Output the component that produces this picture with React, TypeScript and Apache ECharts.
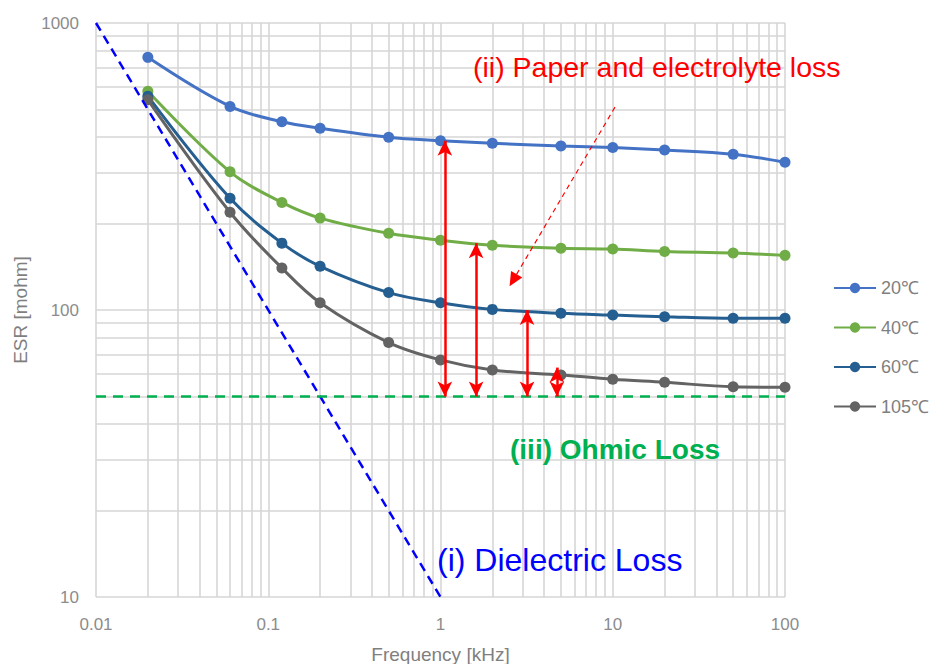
import React, { useEffect, useRef } from "react";
import * as echarts from "echarts";

const frequencies = [0.02, 0.06, 0.12, 0.2, 0.5, 1, 2, 5, 10, 20, 50, 100];
const seriesNames = ["20℃", "40℃", "60℃", "105℃"];
const esr20 = [759, 512, 453, 430, 400, 389, 381, 373, 368, 361, 349, 327];
const esr40 = [578, 303, 237, 209, 185, 175, 168, 164, 163, 160, 158, 155];
const esr60 = [556, 245, 171, 142, 115, 106, 100.5, 97.4, 96, 94.8, 93.6, 93.6];
const esr105 = [540, 219, 140, 106, 77, 67, 61.8, 59.4, 57.4, 56, 54, 53.8];
const seriesColors = ["#4472C4", "#70AD47", "#255E91", "#636363"];

const decades = [0.01, 0.1, 1, 10];
const yDecades = [10, 100];
const multipliers = [1, 2, 3, 4, 5, 6, 7, 8, 9];

// annotation geometry (data coordinates)
const dielectricLine = [[0.01, 1000], [1, 10]];
const ohmicLevel = 50;
const lossArrows = [
  { f: 1.06, top: 389 },
  { f: 1.61, top: 171 },
  { f: 3.18, top: 100 },
  { f: 4.74, top: 63 },
];
const pointerArrow = { from: [10.3, 509], to: [2.64, 127] };

const FONT = "'Liberation Sans', Arial, sans-serif";

export default function App() {
  const ref = useRef<HTMLDivElement>(null);
  useEffect(() => {
    if (!ref.current) return;
    const chart = echarts.init(ref.current, undefined, { renderer: "svg" });
    const xGrid: number[] = [];
    decades.forEach((d) => multipliers.forEach((m) => xGrid.push(+(d * m).toPrecision(3))));
    xGrid.push(100);
    const yGrid: number[] = [];
    yDecades.forEach((d) => multipliers.forEach((m) => yGrid.push(d * m)));
    yGrid.push(1000);

    const allSeries = [esr20, esr40, esr60, esr105];

    const option: any = {
      animation: false,
      backgroundColor: "#ffffff",
      grid: { left: 96, right: 145, top: 23, bottom: 67, containLabel: false, outerBoundsMode: "none" },
      legend: {
        data: seriesNames,
        orient: "vertical",
        left: 828,
        top: 274,
        itemWidth: 42,
        itemHeight: 13,
        itemGap: 21.5,
        textStyle: { color: "#7f7f7f", fontSize: 18, fontFamily: FONT },
      },
      xAxis: {
        type: "log",
        logBase: 10,
        min: 0.01,
        max: 100,
        name: "Frequency [kHz]",
        nameLocation: "middle",
        nameGap: 48,
        nameTextStyle: { color: "#7f7f7f", fontSize: 19, fontFamily: FONT },
        axisLine: { show: false },
        axisTick: { show: false },
        splitLine: { show: false },
        axisLabel: {
          color: "#8c8c8c",
          fontSize: 17,
          fontFamily: FONT,
          margin: 19,
          formatter: (v: number) => String(+v.toPrecision(3)),
        },
      },
      yAxis: {
        type: "log",
        logBase: 10,
        min: 10,
        max: 1000,
        name: "ESR [mohm]",
        nameLocation: "middle",
        nameGap: 64,
        nameTextStyle: { color: "#7f7f7f", fontSize: 19, fontFamily: FONT },
        axisLine: { show: false },
        axisTick: { show: false },
        splitLine: { show: false },
        axisLabel: {
          color: "#8c8c8c",
          fontSize: 17,
          fontFamily: FONT,
          margin: 17,
          formatter: (v: number) => String(+v.toPrecision(3)),
        },
      },
      series: [
        {
          name: "grid",
          type: "line",
          data: [],
          z: 1,
          silent: true,
          markLine: {
            z: 1,
            silent: true,
            symbol: "none",
            label: { show: false },
            lineStyle: { color: "#d6d6d6", width: 1.6, type: "solid" },
            data: [
              ...xGrid.map((v) => ({ xAxis: v })),
              ...yGrid.map((v) => ({ yAxis: v })),
            ],
          },
        },
        ...allSeries.map((vals, i) => ({
          name: seriesNames[i],
          type: "line",
          z: 3,
          smooth: 0.35,
          symbol: "circle",
          symbolSize: 11,
          data: frequencies.map((f, j) => [f, vals[j]]),
          lineStyle: { color: seriesColors[i], width: 3 },
          itemStyle: { color: seriesColors[i] },
        })),
        {
          name: "dielectric",
          type: "line",
          z: 4,
          silent: true,
          symbol: "none",
          data: dielectricLine,
          lineStyle: { color: "#0000FF", width: 2.5, type: [9, 6] },
        },
        {
          name: "ohmic",
          type: "line",
          z: 4,
          silent: true,
          symbol: "none",
          data: [[0.01, ohmicLevel], [100, ohmicLevel]],
          lineStyle: { color: "#00B050", width: 2.5, type: [10, 7] },
        },
        {
          name: "arrows",
          type: "line",
          data: [],
          z: 6,
          silent: true,
          markLine: {
            z: 6,
            silent: true,
            label: { show: false },
            symbol: ["arrow", "arrow"],
            symbolSize: [11, 15],
            lineStyle: { color: "#FF0000", width: 2.5, type: "solid" },
            data: [
              ...lossArrows.map((a) => [
                { coord: [a.f, a.top] },
                { coord: [a.f, ohmicLevel] },
              ]),
              [
                {
                  coord: pointerArrow.from,
                  symbol: "none",
                  lineStyle: { color: "#FF0000", width: 1.2, type: [5, 4] },
                },
                { coord: pointerArrow.to, symbol: "triangle", symbolSize: [13, 14] },
              ],
            ],
          },
        },
      ],
      graphic: [
        {
          type: "text",
          left: 473,
          top: 52,
          z: 100,
          style: { text: "(ii) Paper and electrolyte loss", fill: "#FF0000", font: `28.5px ${FONT}` },
        },
        {
          type: "text",
          left: 510,
          top: 435,
          z: 100,
          style: { text: "(iii) Ohmic Loss", fill: "#00B050", font: `bold 28px ${FONT}` },
        },
        {
          type: "text",
          left: 437,
          top: 544,
          z: 100,
          style: { text: "(i) Dielectric Loss", fill: "#0000FF", font: `32px ${FONT}` },
        },
      ],
    };
    chart.setOption(option);
    return () => chart.dispose();
  }, []);
  return <div ref={ref} style={{ width: 930, height: 664, position: "absolute", left: 0, top: 0 }} />;
}
